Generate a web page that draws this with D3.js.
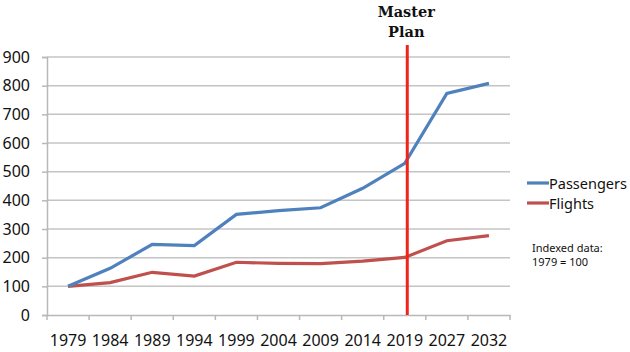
<!DOCTYPE html>
<html>
<head>
<meta charset="utf-8">
<script src="https://cdn.jsdelivr.net/npm/d3@7.9.0/dist/d3.min.js"></script>
<style>
  body { margin: 0; background: #fff; }
  svg { display: block; font-family: "Noto Sans", sans-serif; }
</style>
</head>
<body>
<div id="chart"></div>
<script>
const years = ['1979', '1984', '1989', '1994', '1999', '2004', '2009', '2014', '2019', '2027', '2032'];
const passengers = [100, 163, 246, 242, 351, 364, 374, 442, 529, 773, 808];
const flights = [100, 113, 149, 136, 184, 180, 179, 188, 201, 259, 277];
const yTicks = [0, 100, 200, 300, 400, 500, 600, 700, 800, 900];
const masterPlanYear = '2019';

const width = 630, height = 352;
const margin = { top: 57, right: 120, bottom: 37, left: 47 };
const plot = {
  left: margin.left,
  right: width - margin.right,
  top: margin.top,
  bottom: height - margin.bottom,
};

const svg = d3.select('#chart').append('svg')
  .attr('width', width).attr('height', height);

const x = d3.scaleBand().domain(years).range([plot.left, plot.right]);
const y = d3.scaleLinear().domain([0, 900]).range([plot.bottom, plot.top]);
const xc = d => x(d) + x.bandwidth() / 2;

// gridlines
svg.append('g')
  .selectAll('line')
  .data(yTicks.filter(d => d > 0))
  .join('line')
  .attr('x1', plot.left).attr('x2', plot.right)
  .attr('y1', d => y(d)).attr('y2', d => y(d))
  .attr('stroke', '#c4c4c4').attr('stroke-width', 1.5);

// y axis
const yAxis = svg.append('g')
  .attr('transform', `translate(${plot.left},0)`)
  .call(d3.axisLeft(y).tickValues(yTicks).tickSize(5).tickPadding(12));
yAxis.select('.domain').attr('stroke', '#b8b8b8').attr('stroke-width', 1.5);
yAxis.selectAll('.tick line').attr('stroke', '#b8b8b8').attr('stroke-width', 1.5);
yAxis.selectAll('text').attr('font-size', 16).attr('fill', '#111')
  .attr('font-family', '"Noto Sans", sans-serif');

// x axis
const xAxis = svg.append('g')
  .attr('transform', `translate(0,${plot.bottom})`)
  .call(d3.axisBottom(x).tickSize(0).tickPadding(20));
xAxis.select('.domain').attr('stroke', '#b8b8b8').attr('stroke-width', 1.5);
xAxis.selectAll('text').attr('font-size', 16).attr('fill', '#111')
  .attr('font-family', '"Noto Sans", sans-serif');
// category boundary ticks
svg.append('g')
  .selectAll('line')
  .data(years.concat(['end']))
  .join('line')
  .attr('x1', (d, i) => plot.left + i * x.step())
  .attr('x2', (d, i) => plot.left + i * x.step())
  .attr('y1', plot.bottom).attr('y2', plot.bottom + 5)
  .attr('stroke', '#b8b8b8').attr('stroke-width', 1.5);

const line = d3.line().x((d, i) => xc(years[i])).y(d => y(d));

svg.append('path').datum(flights)
  .attr('d', line).attr('fill', 'none')
  .attr('stroke', '#c0504d').attr('stroke-width', 3.2);

svg.append('path').datum(passengers)
  .attr('d', line).attr('fill', 'none')
  .attr('stroke', '#4f81bd').attr('stroke-width', 3.2);

// master plan marker
const mx = xc(masterPlanYear) + 2.5;
svg.append('line')
  .attr('x1', mx).attr('x2', mx)
  .attr('y1', 45).attr('y2', plot.bottom)
  .attr('stroke', '#f2231b').attr('stroke-width', 3);

const title = svg.append('text')
  .attr('x', mx - 1).attr('text-anchor', 'middle')
  .attr('font-family', '"DejaVu Serif", serif').attr('font-weight', 'bold')
  .attr('font-size', 14.5).attr('fill', '#111');
title.append('tspan').attr('x', mx - 1).attr('y', 17).text('Master');
title.append('tspan').attr('x', mx - 1).attr('y', 37).text('Plan');

// legend
const legend = [
  { name: 'Passengers', color: '#4f81bd', y: 183 },
  { name: 'Flights', color: '#c0504d', y: 203 },
];
const lg = svg.append('g');
lg.selectAll('line').data(legend).join('line')
  .attr('x1', 527).attr('x2', 549)
  .attr('y1', d => d.y).attr('y2', d => d.y)
  .attr('stroke', d => d.color).attr('stroke-width', 3.2);
lg.selectAll('text').data(legend).join('text')
  .attr('x', 549).attr('y', d => d.y + 5.5)
  .attr('font-size', 14.5).attr('fill', '#111')
  .text(d => d.name);

const note = svg.append('text').attr('font-size', 11).attr('fill', '#111');
note.append('tspan').attr('x', 532).attr('y', 252).text('Indexed data:');
note.append('tspan').attr('x', 532).attr('y', 266).text('1979 = 100');
</script>
</body>
</html>
